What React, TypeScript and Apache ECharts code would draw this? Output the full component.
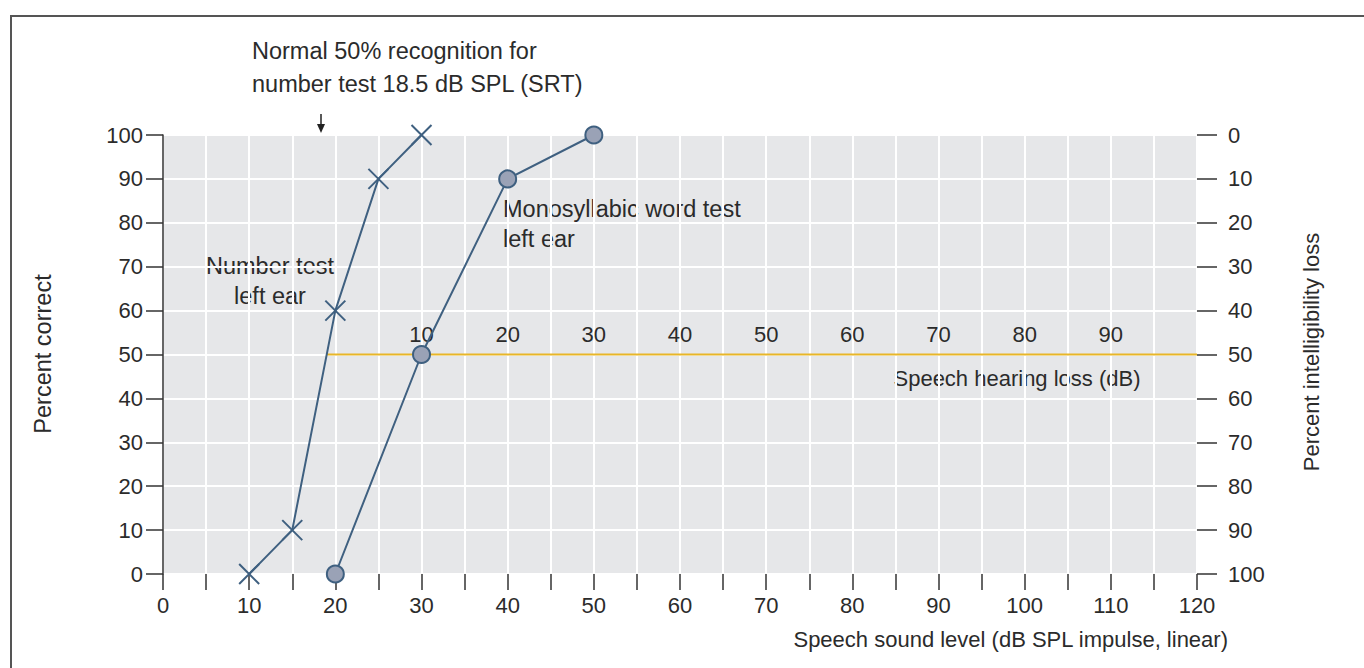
import React, { useEffect, useRef } from "react";
import * as echarts from "echarts";

// Data
const numberTestX = [10, 15, 20, 25, 30];
const numberTestY = [0, 10, 60, 90, 100];
const wordTestX = [20, 30, 40, 50];
const wordTestY = [0, 50, 90, 100];
const srtLevel = 18.5;
const srtLineX = [19, 120];
const srtLineY = [50, 50];
const hearingLossTicks = [10, 20, 30, 40, 50, 60, 70, 80, 90];

const FONT = "'Liberation Sans', Arial, sans-serif";
const TXT = "#2b2b2b";
const BLUE = "#3f6080";
const AX = 22;
const ANN = 23.5;

export default function App() {
  const ref = useRef<HTMLDivElement>(null);
  useEffect(() => {
    if (!ref.current) return;
    const chart = echarts.init(ref.current, null, { renderer: "svg" });
    const grid = { left: 163, top: 135, right: 167, bottom: 94 };
    const option: any = {
      animation: false,
      textStyle: { fontFamily: FONT },
      grid: { ...grid, show: true, backgroundColor: "#e6e7e9", borderWidth: 0 },
      xAxis: [
        {
          type: "value",
          min: 0,
          max: 120,
          interval: 5,
          axisLine: { show: false, onZero: false },
          axisTick: { show: true, length: 16, lineStyle: { color: "#333", width: 1.5 } },
          axisLabel: {
            margin: 20,
            fontSize: AX,
            color: TXT,
            fontFamily: FONT,
            formatter: (v: number) => (v % 10 === 0 ? String(v) : ""),
          },
          splitLine: { show: true, lineStyle: { color: "#ffffff", width: 2 } },
        },
        {
          type: "value",
          position: "top",
          offset: -219,
          min: -20,
          max: 100,
          interval: 10,
          axisLine: { show: false, onZero: false },
          axisTick: { show: false },
          splitLine: { show: false },
          axisLabel: {
            margin: 9,
            fontSize: AX,
            color: TXT,
            fontFamily: FONT,
            formatter: (v: number) => (hearingLossTicks.includes(v) ? String(v) : ""),
          },
        },
      ],
      yAxis: [
        {
          type: "value",
          min: 0,
          max: 100,
          interval: 10,
          axisLine: { show: true, onZero: false, lineStyle: { color: "#333", width: 1.5 } },
          axisTick: { show: true, length: 17, lineStyle: { color: "#333", width: 1.5 } },
          axisLabel: { margin: 20, fontSize: AX, color: TXT, fontFamily: FONT },
          splitLine: { show: true, lineStyle: { color: "#ffffff", width: 2 } },
        },
        {
          type: "value",
          position: "right",
          inverse: true,
          min: 0,
          max: 100,
          interval: 10,
          axisLine: { show: false, onZero: false },
          axisTick: { show: true, length: 20, lineStyle: { color: "#333", width: 1.5 } },
          axisLabel: { margin: 31, fontSize: AX, color: TXT, fontFamily: FONT },
          splitLine: { show: false },
        },
      ],
      series: [
        {
          type: "line",
          data: srtLineX.map((x, i) => [x, srtLineY[i]]),
          symbol: "none",
          lineStyle: { color: "#e8b628", width: 2 },
          z: 1,
        },
        {
          type: "line",
          data: numberTestX.map((x, i) => [x, numberTestY[i]]),
          symbol: "path://M0,0L10,10M10,0L0,10",
          symbolSize: 20,
          lineStyle: { color: BLUE, width: 2 },
          itemStyle: { color: "none", borderColor: BLUE, borderWidth: 2 },
          z: 3,
        },
        {
          type: "line",
          data: wordTestX.map((x, i) => [x, wordTestY[i]]),
          symbol: "circle",
          symbolSize: 17,
          lineStyle: { color: BLUE, width: 2 },
          itemStyle: { color: "#9aa2b6", borderColor: BLUE, borderWidth: 2 },
          z: 3,
        },
      ],
      graphic: [
        {
          type: "rect",
          shape: { x: 11, y: 16, width: 1400, height: 700 },
          style: { fill: "none", stroke: "#555", lineWidth: 2 },
          silent: true,
          z: -10,
        },
        {
          type: "text",
          x: 252,
          y: 34,
          style: {
            text: "Normal 50% recognition for\nnumber test " + srtLevel + " dB SPL (SRT)",
            fontSize: ANN,
            lineHeight: 33,
            fontFamily: FONT,
            fill: TXT,
          },
        },
        {
          type: "line",
          shape: { x1: 321, y1: 114, x2: 321, y2: 126 },
          style: { stroke: "#222", lineWidth: 1.5 },
        },
        {
          type: "polygon",
          shape: { points: [[317, 124], [325, 124], [321, 133]] },
          style: { fill: "#222" },
        },
        {
          type: "text",
          x: 270,
          y: 251,
          style: {
            text: "Number test\nleft ear",
            align: "center",
            fontSize: ANN,
            lineHeight: 30,
            fontFamily: FONT,
            fill: TXT,
          },
        },
        {
          type: "text",
          x: 503,
          y: 194,
          style: {
            text: "Monosyllabic word test\nleft ear",
            fontSize: ANN,
            lineHeight: 30,
            fontFamily: FONT,
            fill: TXT,
          },
        },
        {
          type: "text",
          x: 1017,
          y: 367,
          style: {
            text: "Speech hearing loss (dB)",
            align: "center",
            fontSize: AX,
            fontFamily: FONT,
            fill: TXT,
          },
        },
        {
          type: "text",
          x: 1228,
          y: 628,
          style: {
            text: "Speech sound level (dB SPL impulse, linear)",
            align: "right",
            fontSize: AX,
            fontFamily: FONT,
            fill: TXT,
          },
        },
        {
          type: "text",
          x: 43,
          y: 354,
          rotation: Math.PI / 2,
          style: {
            text: "Percent correct",
            align: "center",
            verticalAlign: "middle",
            fontSize: ANN,
            fontFamily: FONT,
            fill: TXT,
          },
        },
        {
          type: "text",
          x: 1311,
          y: 352,
          rotation: Math.PI / 2,
          style: {
            text: "Percent intelligibility loss",
            align: "center",
            verticalAlign: "middle",
            fontSize: AX,
            fontFamily: FONT,
            fill: TXT,
          },
        },
      ],
    };
    chart.setOption(option);
    return () => chart.dispose();
  }, []);
  return (
    <div
      ref={ref}
      style={{ position: "fixed", left: 0, top: 0, width: 1364, height: 668, background: "#fff" }}
    />
  );
}
